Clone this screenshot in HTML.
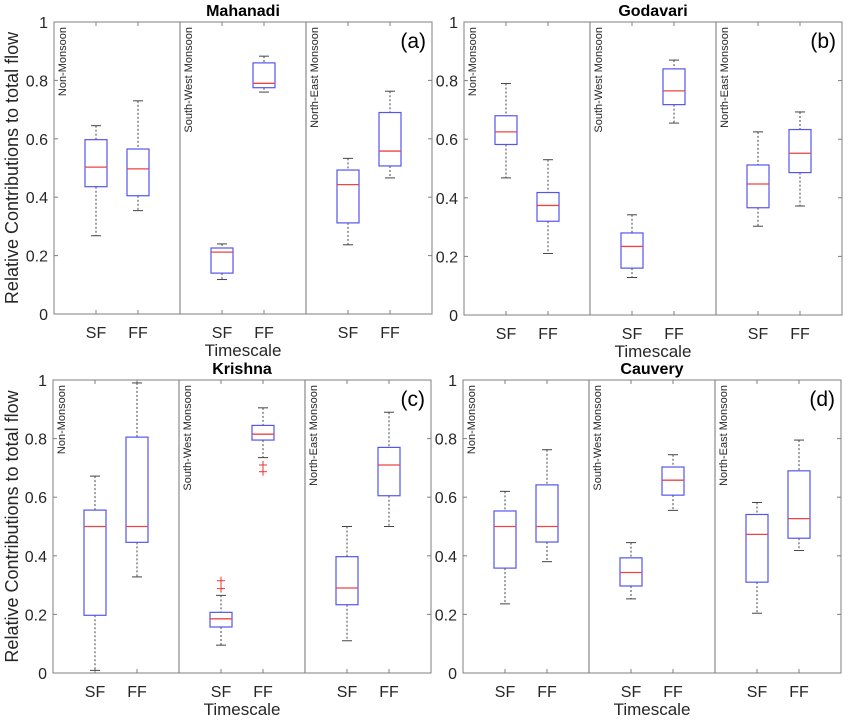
<!DOCTYPE html>
<html><head><meta charset="utf-8"><style>
body{margin:0;background:#fff}
svg{display:block;font-family:"Liberation Sans",Arial,sans-serif}
</style></head><body>
<svg id="c" width="848" height="720" viewBox="0 0 848 720"></svg>
<script>
// stats per box: [hi, q3, median, q1, lo]
const basins = ["Mahanadi","Godavari","Krishna","Cauvery"];
const panelLabels = ["(a)","(b)","(c)","(d)"];
const seasons = ["Non-Monsoon","South-West Monsoon","North-East Monsoon"];
const scales = ["SF","FF"];
const yTicks = [0,0.2,0.4,0.6,0.8,1];
const yTickLabels = ["0","0.2","0.4","0.6","0.8","1"];
const mahanadi = [[0.645,0.597,0.503,0.436,0.268],[0.73,0.565,0.497,0.405,0.354],[0.24,0.226,0.212,0.14,0.118],[0.883,0.86,0.79,0.775,0.76],[0.533,0.493,0.443,0.312,0.237],[0.763,0.69,0.558,0.507,0.466]];
const godavari = [[0.79,0.68,0.625,0.582,0.468],[0.53,0.418,0.374,0.32,0.21],[0.342,0.28,0.234,0.16,0.128],[0.87,0.84,0.765,0.718,0.655],[0.625,0.512,0.447,0.366,0.303],[0.693,0.633,0.552,0.486,0.372]];
const krishna = [[0.672,0.556,0.5,0.197,0.009],[0.99,0.805,0.5,0.446,0.328],[0.265,0.207,0.185,0.157,0.095],[0.905,0.845,0.815,0.795,0.735],[0.5,0.397,0.29,0.233,0.11],[0.89,0.77,0.71,0.605,0.5]];
const cauvery = [[0.62,0.553,0.5,0.358,0.236],[0.762,0.642,0.5,0.447,0.38],[0.445,0.393,0.343,0.297,0.253],[0.745,0.703,0.658,0.607,0.555],[0.582,0.541,0.473,0.31,0.204],[0.795,0.69,0.527,0.46,0.418]];
const krishnaOutliers = [[],[],[0.315,0.288],[0.71,0.687],[],[]];
const allData = [mahanadi,godavari,krishna,cauvery];
const allOutliers = [[[],[],[],[],[],[]],[[],[],[],[],[],[]],krishnaOutliers,[[],[],[],[],[],[]]];

const NS="http://www.w3.org/2000/svg";
const svg=document.getElementById('c');
function mk(tag,attrs,parent,txt){const e=document.createElementNS(NS,tag);for(const k in attrs)e.setAttribute(k,attrs[k]);if(txt!==undefined)e.textContent=txt;(parent||svg).appendChild(e);return e;}
const panels=[{l:54,t:22,b:314},{l:464,t:22,b:315},{l:53,t:380,b:673},{l:463,t:380,b:673}];
const W=378;
panels.forEach((p,pi)=>{
  const g=mk('g',{});
  
  
  const y=v=>p.b-(p.b-p.t)*v;
  const grp=W/3;
  const x=(si,k)=>p.l+si*grp+42+k*42;
  // axes box
  const ax=mk('rect',{x:p.l,y:p.t,width:W,height:p.b-p.t,fill:'none',stroke:'#7f7f7f','stroke-width':1},g);
  
  // dividers
  for(let i=1;i<3;i++){const d=mk('line',{x1:p.l+i*grp,x2:p.l+i*grp,y1:p.t,y2:p.b,stroke:'#8a8a8a','stroke-width':1.2},g);
    }
  // y ticks
  yTicks.forEach((v,i)=>{
    mk('line',{x1:p.l,x2:p.l+4,y1:y(v),y2:y(v),stroke:'#7f7f7f'},g);
    mk('line',{x1:p.l+W,x2:p.l+W-4,y1:y(v),y2:y(v),stroke:'#7f7f7f'},g);
    const t=mk('text',{x:p.l-6,y:y(v)+6,'text-anchor':'end','font-size':16,fill:'#262626'},g,yTickLabels[i]);
    
  });
  // season labels
  seasons.forEach((s,si)=>{
    const tx=p.l+si*grp+12, ty=p.t+5;
    const t=mk('text',{x:tx,y:ty,transform:`rotate(-90 ${tx} ${ty})`,'text-anchor':'end','font-size':11,fill:'#262626'},g,s);
    
    scales.forEach((sc,k)=>{
      const cx=x(si,k);
      mk('line',{x1:cx,x2:cx,y1:p.b,y2:p.b-4,stroke:'#7f7f7f'},g);
      mk('line',{x1:cx,x2:cx,y1:p.t,y2:p.t+4,stroke:'#7f7f7f'},g);
      const lt=mk('text',{x:cx,y:p.b+24,'text-anchor':'middle','font-size':16,fill:'#262626'},g,sc);
      
      const d=allData[pi][si*2+k];
      const bg=mk('g',{},g);
      
      
      mk('line',{x1:cx,x2:cx,y1:y(d[0]),y2:y(d[1]),stroke:'#444','stroke-dasharray':'2,2'},bg);
      mk('line',{x1:cx,x2:cx,y1:y(d[3]),y2:y(d[4]),stroke:'#444','stroke-dasharray':'2,2'},bg);
      mk('line',{x1:cx-5,x2:cx+5,y1:y(d[0]),y2:y(d[0]),stroke:'#444'},bg);
      mk('line',{x1:cx-5,x2:cx+5,y1:y(d[4]),y2:y(d[4]),stroke:'#444'},bg);
      mk('rect',{x:cx-11,y:y(d[1]),width:22,height:y(d[3])-y(d[1]),fill:'#fff',stroke:'#5555ee','stroke-width':1.2},bg);
      mk('line',{x1:cx-11,x2:cx+11,y1:y(d[2]),y2:y(d[2]),stroke:'#ee4444','stroke-width':1.3},bg);
      allOutliers[pi][si*2+k].forEach(o=>{
        const og=mk('g',{},bg);
        
        mk('line',{x1:cx-4,x2:cx+4,y1:y(o),y2:y(o),stroke:'#ee3333'},og);
        mk('line',{x1:cx,x2:cx,y1:y(o)-4,y2:y(o)+4,stroke:'#ee3333'},og);
      });
    });
  });
  const ti=mk('text',{x:p.l+W/2,y:p.t-6,'text-anchor':'middle','font-size':16,'font-weight':'bold',fill:'#000'},g,basins[pi]);
  
  const pl=mk('text',{x:p.l+W-6,y:p.t+26,'text-anchor':'end','font-size':21,fill:'#000'},g,panelLabels[pi]);
  
  const xl=mk('text',{x:p.l+W/2,y:p.b+42,'text-anchor':'middle','font-size':17,fill:'#262626'},g,'Timescale');
  
  if(pi%2===0){
    const cy=(p.t+p.b)/2;
    const yl=mk('text',{x:18,y:cy,transform:`rotate(-90 18 ${cy})`,'text-anchor':'middle','font-size':18,fill:'#262626'},g,'Relative Contributions to total flow');
    
  }
});
</script>
</body></html>
